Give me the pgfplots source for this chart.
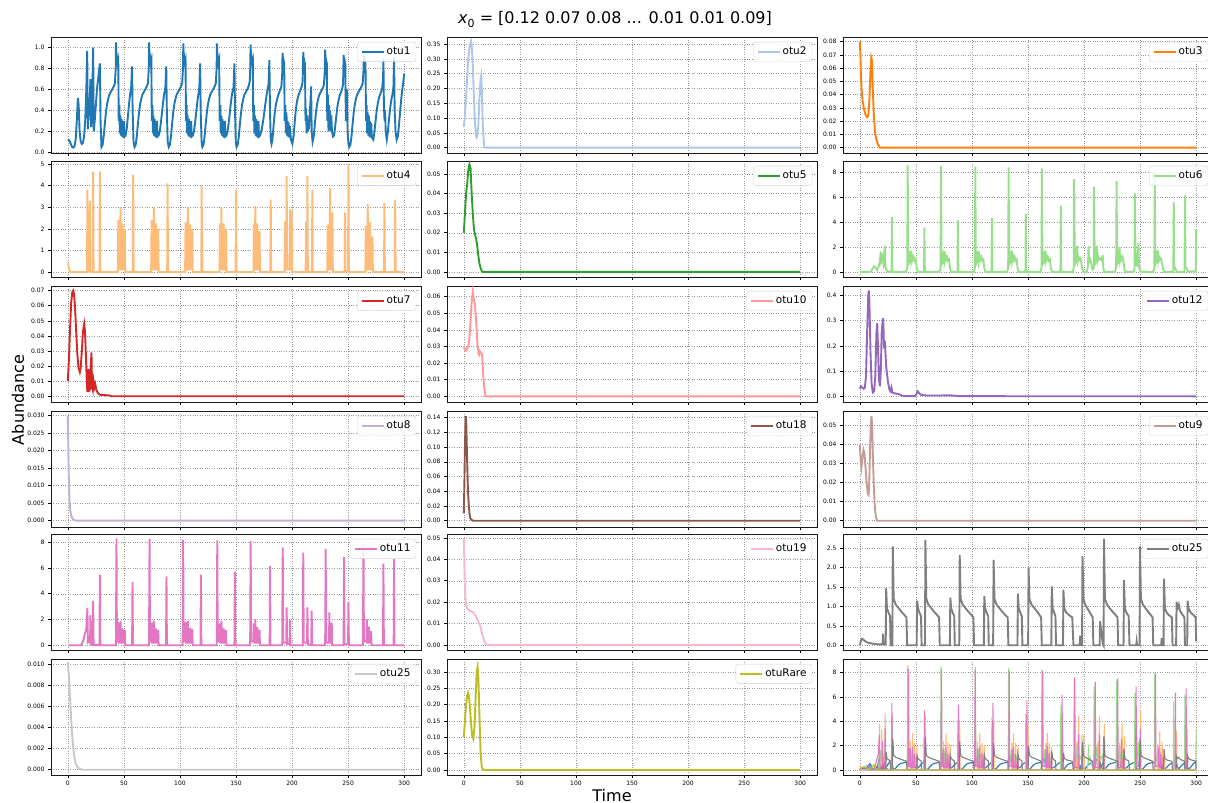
\documentclass[border=0pt]{standalone}
\usepackage{fontspec}
\setmainfont{DejaVu Sans}
\usepackage{pgfplots}
\pgfplotsset{compat=1.18}
\usepackage{pgfplotstable}

\definecolor{cA}{HTML}{1F77B4}
\definecolor{cB}{HTML}{AEC7E8}
\definecolor{cC}{HTML}{FF7F0E}
\definecolor{cD}{HTML}{FFBB78}
\definecolor{cE}{HTML}{2CA02C}
\definecolor{cF}{HTML}{98DF8A}
\definecolor{cG}{HTML}{D62728}
\definecolor{cH}{HTML}{FF9896}
\definecolor{cI}{HTML}{9467BD}
\definecolor{cJ}{HTML}{C5B0D5}
\definecolor{cK}{HTML}{8C564B}
\definecolor{cL}{HTML}{C49C94}
\definecolor{cM}{HTML}{E377C2}
\definecolor{cN}{HTML}{F7B6D2}
\definecolor{cO}{HTML}{7F7F7F}
\definecolor{cP}{HTML}{C7C7C7}
\definecolor{cQ}{HTML}{BCBD22}

\pgfplotsset{
  panel/.style={
    scale only axis, width=370pt, height=116pt, anchor=south west,
    xmin=-15, xmax=315, xtick={0,50,...,300},
    grid=major, major grid style={dotted, black!40, line width=0.55pt},
    axis line style={black!90, line width=0.9pt},
    tick style={black, line width=0.6pt},
    tick align=outside, tick pos=left, major tick length=3pt,
    ticklabel style={font=\fontsize{6}{7}\selectfont},
    /pgf/number format/assume math mode=true,
    scaled y ticks=false,
    yticklabel style={/pgf/number format/fixed, /pgf/number format/fixed zerofill},
    every axis plot post/.append style={line width=1.9pt},
    legend style={at={(0.987,0.957)}, anchor=north east, draw=black!18,
      rounded corners=2.5pt, fill=white, fill opacity=0.85, text opacity=1,
      font=\fontsize{10.5}{12}\selectfont, inner xsep=3.5pt, inner ysep=3pt},
    legend image code/.code={\draw[##1] (0pt,0pt) -- (22pt,0pt);},
  },
  nolab/.style={xticklabels={}},
  p0/.style={yticklabel style={/pgf/number format/precision=0}},
  p1/.style={yticklabel style={/pgf/number format/precision=1}},
  p2/.style={yticklabel style={/pgf/number format/precision=2}},
  p3/.style={yticklabel style={/pgf/number format/precision=3}},
}

% otu1
\pgfplotstableread[row sep=\\]{t v\\
0 0.12\\ 1 0.115\\ 2 0.10\\ 3 0.07\\ 4 0.05\\ 5 0.045\\ 6 0.06\\ 7 0.12\\ 8 0.3\\ 9 0.52\\ 9.7 0.45\\ 10.5 0.2\\ 11.5 0.1\\ 12.5 0.08\\ 13.5 0.09\\ 14.5 0.15\\ 15.5 0.3\\ 16.5 0.6\\ 17.3 0.97\\ 17.8 0.22\\ 18.5 0.35\\ 19.5 0.5\\ 20.2 0.7\\ 20.7 0.24\\ 21.5 0.35\\ 22.6 1.0\\ 23.1 0.2\\ 24 0.3\\ 25 0.45\\ 26 0.6\\ 27 0.7\\ 28.6 0.85\\ 29.2 0.3\\ 30 0.05\\
31 0.07\\ 32 0.15\\ 33 0.27\\ 34 0.38\\ 35 0.46\\ 36 0.51\\ 37 0.55\\ 38 0.57\\ 39 0.59\\ 40 0.61\\ 41 0.63\\ 42 0.66\\ 42.7 0.8\\ 43 1.05\\ 43.4 0.86\\ 43.9 0.9\\ 44.4 0.85\\ 45 0.88\\ 45.4 0.3\\ 46 0.45\\ 46.4 0.18\\ 46.9 0.35\\ 47.4 0.16\\ 47.9 0.32\\ 48.4 0.15\\ 48.9 0.3\\ 49.4 0.14\\ 50 0.3\\ 50.5 0.15\\ 51.5 0.16\\ 52.5 0.22\\ 53.5 0.33\\ 54.5 0.45\\ 55.5 0.55\\ 56.5 0.62\\ 57.3 0.82\\ 57.8 0.4\\ 58.6 0.1\\ 59.5 0.05\\
60.5 0.07\\ 61.5 0.15\\ 62.5 0.27\\ 63.5 0.38\\ 64.5 0.46\\ 65.5 0.51\\ 66.5 0.55\\ 67.5 0.57\\ 68.5 0.59\\ 69.5 0.61\\ 70.5 0.63\\ 71.5 0.66\\ 72.2 0.8\\ 72.5 1.05\\ 72.9 0.86\\ 73.4 0.9\\ 73.9 0.85\\ 74.5 0.88\\ 74.9 0.3\\ 75.5 0.45\\ 75.9 0.18\\ 76.4 0.35\\ 76.9 0.16\\ 77.4 0.32\\ 77.9 0.15\\ 78.4 0.3\\ 78.9 0.14\\ 79.5 0.3\\ 80 0.15\\ 81 0.16\\ 82 0.2\\ 83 0.28\\ 84 0.38\\ 85 0.48\\ 86 0.56\\ 87 0.62\\ 87.8 0.82\\ 88.3 0.4\\ 89.1 0.1\\ 90 0.05\\
91 0.07\\ 92 0.15\\ 93 0.27\\ 94 0.38\\ 95 0.46\\ 96 0.51\\ 97 0.55\\ 98 0.57\\ 99 0.59\\ 100 0.61\\ 101 0.63\\ 102 0.66\\ 102.7 0.8\\ 103 1.04\\ 103.4 0.86\\ 103.9 0.9\\ 104.4 0.85\\ 105 0.88\\ 105.4 0.3\\ 106 0.45\\ 106.4 0.18\\ 106.9 0.35\\ 107.4 0.16\\ 107.9 0.32\\ 108.4 0.15\\ 108.9 0.3\\ 109.4 0.14\\ 110 0.3\\ 110.5 0.15\\ 111.5 0.16\\ 112.5 0.2\\ 113.5 0.28\\ 114.5 0.38\\ 115.5 0.48\\ 116.5 0.56\\ 117.3 0.62\\ 118 0.85\\ 118.5 0.4\\ 119.3 0.1\\ 120 0.05\\
121 0.07\\ 122 0.15\\ 123 0.27\\ 124 0.38\\ 125 0.46\\ 126 0.51\\ 127 0.55\\ 128 0.57\\ 129 0.59\\ 130 0.61\\ 131 0.63\\ 132 0.66\\ 132.7 0.8\\ 133 1.04\\ 133.4 0.86\\ 133.9 0.9\\ 134.4 0.85\\ 135 0.88\\ 135.4 0.3\\ 136 0.45\\ 136.4 0.18\\ 136.9 0.35\\ 137.4 0.16\\ 137.9 0.32\\ 138.4 0.15\\ 138.9 0.3\\ 139.4 0.14\\ 140 0.3\\ 140.5 0.15\\ 141.5 0.16\\ 142.5 0.2\\ 143.5 0.28\\ 144.5 0.38\\ 145.5 0.48\\ 146.5 0.56\\ 147.8 0.62\\ 148.6 0.85\\ 149.1 0.4\\ 149.8 0.1\\ 150.5 0.05\\
151.5 0.07\\ 152.5 0.15\\ 153.5 0.27\\ 154.5 0.38\\ 155.5 0.46\\ 156.5 0.51\\ 157.5 0.55\\ 158.5 0.57\\ 159.5 0.59\\ 160.5 0.61\\ 161.5 0.64\\ 162.3 0.68\\ 162.7 0.8\\ 163 1.03\\ 163.4 0.86\\ 163.9 0.9\\ 164.4 0.85\\ 165 0.88\\ 165.4 0.3\\ 166 0.45\\ 166.4 0.18\\ 166.9 0.35\\ 167.4 0.16\\ 167.9 0.32\\ 168.4 0.15\\ 168.9 0.3\\ 169.4 0.14\\ 170 0.3\\ 170.5 0.15\\ 171.5 0.16\\ 173 0.22\\ 174.5 0.32\\ 176 0.45\\ 177.5 0.56\\ 179 0.65\\ 179.8 0.88\\ 180.3 0.4\\ 181 0.12\\ 181.7 0.08\\
182.5 0.12\\ 183.5 0.25\\ 184.5 0.37\\ 185.5 0.45\\ 186.5 0.5\\ 187.5 0.54\\ 188.5 0.57\\ 189.5 0.6\\ 190.5 0.63\\ 191.2 0.75\\ 191.5 0.95\\ 191.9 0.86\\ 192.4 0.88\\ 193 0.85\\ 193.4 0.3\\ 194 0.45\\ 194.5 0.18\\ 195 0.38\\ 195.5 0.16\\ 196 0.3\\ 196.5 0.15\\ 197 0.28\\ 197.5 0.14\\ 198 0.25\\ 199 0.12\\ 200.3 0.08\\
201.3 0.15\\ 202.3 0.28\\ 203.3 0.4\\ 204.3 0.48\\ 205.3 0.53\\ 206.3 0.56\\ 207.3 0.59\\ 208.3 0.62\\ 209.3 0.66\\ 209.7 0.78\\ 210 0.96\\ 210.4 0.85\\ 211 0.87\\ 211.5 0.84\\ 212 0.3\\ 212.5 0.42\\ 213 0.18\\ 213.5 0.35\\ 214 0.2\\ 214.5 0.3\\ 215 0.22\\ 215.7 0.35\\ 216.5 0.5\\ 217 0.63\\ 217.5 0.2\\ 218.3 0.1\\
219.3 0.15\\ 220.3 0.27\\ 221.3 0.38\\ 222.3 0.46\\ 223.3 0.51\\ 224.3 0.55\\ 225.3 0.57\\ 226.3 0.59\\ 227.3 0.61\\ 228.3 0.64\\ 229.1 0.75\\ 229.5 0.98\\ 229.9 0.86\\ 230.4 0.88\\ 231 0.85\\ 231.4 0.3\\ 232 0.55\\ 232.5 0.2\\ 233 0.45\\ 233.5 0.25\\ 234 0.4\\ 234.5 0.2\\ 235 0.35\\ 235.6 0.2\\ 236.5 0.15\\ 237.5 0.16\\
238.5 0.25\\ 239.5 0.35\\ 240.5 0.44\\ 241.5 0.5\\ 242.5 0.54\\ 243.5 0.57\\ 244.5 0.6\\ 245.5 0.65\\ 246 0.93\\ 246.4 0.85\\ 247 0.87\\ 247.5 0.84\\ 248 0.3\\ 248.5 0.35\\ 249 0.6\\ 249.5 0.2\\ 250.3 0.08\\ 251 0.05\\
252 0.07\\ 253 0.15\\ 254 0.27\\ 255 0.38\\ 256 0.46\\ 257 0.51\\ 258 0.55\\ 259 0.57\\ 260 0.59\\ 261 0.61\\ 262 0.63\\ 263 0.66\\ 263.7 0.78\\ 264 0.93\\ 264.4 0.86\\ 265 0.88\\ 265.5 0.84\\ 266 0.3\\ 266.5 0.45\\ 267 0.18\\ 267.5 0.38\\ 268 0.16\\ 268.5 0.35\\ 269 0.15\\ 269.5 0.3\\ 270 0.14\\ 270.6 0.28\\ 271.2 0.14\\ 272.5 0.12\\
273.5 0.2\\ 274.5 0.3\\ 275.5 0.4\\ 276.5 0.47\\ 277.5 0.52\\ 278.5 0.55\\ 279.5 0.58\\ 280.5 0.62\\ 281.2 0.72\\ 281.5 0.89\\ 281.9 0.45\\ 282.5 0.3\\ 283 0.4\\ 283.5 0.2\\ 284.5 0.12\\
285.5 0.2\\ 286.5 0.32\\ 287.5 0.42\\ 288.5 0.5\\ 289.5 0.55\\ 290.4 0.62\\ 291 0.91\\ 291.5 0.4\\ 292.3 0.2\\ 293.3 0.12\\ 294.3 0.15\\ 295.3 0.25\\ 296.3 0.38\\ 297.3 0.5\\ 298.3 0.6\\ 299.3 0.68\\ 300 0.75\\
}\otuA

% otu2
\pgfplotstableread[row sep=\\]{t v\\
0 0.07\\ 1 0.11\\ 2 0.17\\ 3 0.24\\ 4 0.3\\ 5 0.34\\ 6 0.355\\ 6.5 0.36\\ 7 0.35\\ 8 0.28\\ 9 0.17\\ 10 0.08\\ 11 0.04\\ 11.5 0.035\\ 12 0.04\\ 13 0.08\\ 14 0.17\\ 15 0.235\\ 15.5 0.245\\ 16 0.2\\ 17 0.07\\ 18 0.01\\ 18.5 0.002\\ 19 0\\ 300 0\\
}\otuB

% otu3
\pgfplotstableread[row sep=\\]{t v\\
0 0.08\\ 0.5 0.07\\ 1 0.055\\ 1.5 0.045\\ 2.5 0.035\\ 3.5 0.03\\ 5 0.025\\ 6.5 0.023\\ 7.5 0.024\\ 8.5 0.035\\ 9.5 0.058\\ 10.2 0.068\\ 10.8 0.066\\ 11.5 0.045\\ 12.5 0.025\\ 13.5 0.012\\ 14.5 0.007\\ 16 0.003\\ 17.9 0\\ 300 0\\
}\otuC

% otu4
\pgfplotstableread[row sep=\\]{t v\\
0 0.43\\ 0.5 0.35\\ 1.5 0.05\\ 2.5 0\\ 17.1 0\\ 17.5 3.8\\ 17.9 0.05\\ 19.2 0.05\\ 19.6 3.3\\ 20 0.02\\ 22.2 0\\ 22.6 4.65\\ 23 0\\ 28.2 0\\ 28.6 4.65\\ 29 0\\
44.6 0\\ 45 2.4\\ 45.4 0.12\\ 46.6 0.12\\ 47 3.0\\ 47.4 0.12\\ 48.4 0.12\\ 48.8 2.25\\ 49.2 0.12\\ 50.5 0.12\\ 50.9 2.0\\ 51.3 0\\ 57.9 0\\ 58.3 4.5\\ 58.7 0\\
74.3 0\\ 74.7 2.4\\ 75.1 0.12\\ 76.4 0.12\\ 76.8 3.0\\ 77.2 0.12\\ 78.2 0.12\\ 78.6 2.25\\ 79 0.12\\ 80.2 0.12\\ 80.6 2.0\\ 81 0\\ 88.6 0\\ 89 4.1\\ 89.4 0\\
104.6 0\\ 105 2.3\\ 105.4 0.12\\ 106.6 0.12\\ 107 3.0\\ 107.4 0.12\\ 108.6 0.12\\ 109 2.2\\ 109.4 0.12\\ 110.6 0.12\\ 111 2.0\\ 111.4 0\\ 119 0\\ 119.4 4.0\\ 119.8 0\\
135.3 0\\ 135.7 2.25\\ 136.1 0.12\\ 136.6 0.12\\ 137 3.0\\ 137.4 0.12\\ 138.6 0.12\\ 139 2.25\\ 139.4 0.12\\ 140.6 0.12\\ 141 2.0\\ 141.4 0\\ 149.6 0\\ 150 3.8\\ 150.4 0\\
165.6 0\\ 166 2.2\\ 166.4 0.12\\ 166.8 0.12\\ 167.2 3.05\\ 167.6 0.12\\ 168.6 0.12\\ 169 2.25\\ 169.4 0.12\\ 170.6 0.12\\ 171 1.9\\ 171.4 0\\ 180.6 0\\ 181 3.35\\ 181.4 0\\
193.3 0\\ 193.7 2.35\\ 194.1 0.12\\ 194.8 0.12\\ 195.2 4.45\\ 195.6 0.12\\ 197.8 0.12\\ 198.2 2.9\\ 198.6 0.12\\ 199.3 0.12\\ 199.7 2.85\\ 200.1 0\\
212.1 0\\ 212.5 2.35\\ 212.9 0.12\\ 213.3 0.12\\ 213.7 4.45\\ 214.1 0\\ 217.7 0\\ 218.1 3.8\\ 218.5 0\\
231.4 0\\ 231.8 2.2\\ 232.2 0.12\\ 233.5 0.12\\ 233.9 3.9\\ 234.3 0.12\\ 235.6 0.12\\ 236 2.75\\ 236.4 0\\
246.9 0\\ 247.3 2.75\\ 247.7 0.05\\ 249.9 0.05\\ 250.3 4.95\\ 250.7 0\\
265.4 0\\ 265.8 2.15\\ 266.2 0.12\\ 267.1 0.12\\ 267.5 3.15\\ 267.9 0.12\\ 269.2 0.12\\ 269.6 2.3\\ 270 0.12\\ 271.3 0.12\\ 271.7 1.65\\ 272.1 0\\
282 0\\ 282.4 3.2\\ 282.8 0\\ 291.6 0\\ 292 3.35\\ 292.4 0\\ 300 0\\
}\otuD

% otu5
\pgfplotstableread[row sep=\\]{t v\\
0 0.02\\ 1 0.03\\ 2 0.04\\ 3 0.045\\ 4 0.052\\ 5 0.055\\ 6 0.053\\ 7 0.04\\ 8 0.03\\ 9 0.022\\ 10 0.019\\ 11 0.017\\ 12 0.013\\ 13 0.008\\ 14 0.004\\ 15 0.002\\ 16 0.0005\\ 17 0\\ 300 0\\
}\otuE

% otu6
\pgfplotstableread[row sep=\\]{t v\\
0 0\\ 10 0.02\\ 11 0.2\\ 12.5 0.45\\ 14 0.35\\ 15.5 0.15\\ 17 0.5\\ 18 0.9\\ 18.6 1.65\\ 19.2 0.9\\ 20 1.2\\ 21 0.7\\ 22.3 2.1\\ 22.8 0.4\\ 24 0.1\\ 25 0.03\\ 28.2 0.03\\ 28.6 4.4\\ 29 0.03\\ 30 0\\
41.2 0\\ 42.3 0.3\\ 42.7 8.55\\ 43.2 0.6\\ 44.2 0.8\\ 45.3 1.7\\ 45.8 0.9\\ 46.5 1.3\\ 47.2 1.0\\ 48 1.2\\ 48.9 0.9\\ 49.9 1.0\\ 50.7 0.3\\ 51.7 0\\ 57.2 0\\ 57.6 3.55\\ 58 0\\
70.9 0\\ 72 0.3\\ 72.4 8.5\\ 72.9 0.6\\ 73.9 0.8\\ 75 1.7\\ 75.5 0.9\\ 76.2 1.3\\ 76.9 1.0\\ 77.7 1.2\\ 78.6 0.9\\ 79.6 1.0\\ 80.4 0.3\\ 81.4 0\\ 87.1 0\\ 87.5 4.15\\ 87.9 0\\
101.5 0\\ 102.6 0.3\\ 103 8.45\\ 103.5 0.6\\ 104.5 0.8\\ 105.6 1.7\\ 106.1 0.9\\ 106.8 1.3\\ 107.5 1.0\\ 108.3 1.2\\ 109.2 0.9\\ 110.2 1.0\\ 111 0.3\\ 112 0\\ 117.4 0\\ 117.8 4.35\\ 118.2 0\\
131.2 0\\ 132.3 0.3\\ 132.7 8.4\\ 133.2 0.6\\ 134.2 0.8\\ 135.3 1.7\\ 135.8 0.9\\ 136.5 1.3\\ 137.2 1.0\\ 138 1.2\\ 138.9 0.9\\ 139.9 1.0\\ 140.7 0.3\\ 141.7 0\\ 147.7 0\\ 148.1 4.65\\ 148.5 0\\
160.9 0\\ 162 0.3\\ 162.4 8.3\\ 162.9 0.6\\ 163.9 0.8\\ 165 1.7\\ 165.5 0.9\\ 166.2 1.3\\ 166.9 1.0\\ 167.7 1.2\\ 168.6 0.9\\ 169.6 1.0\\ 170.4 0.3\\ 171.4 0\\ 178.9 0\\ 179.3 5.3\\ 179.7 0\\
189.7 0\\ 190.8 0.3\\ 191.2 7.45\\ 191.7 0.6\\ 192.7 0.8\\ 193.8 2.1\\ 194.3 0.9\\ 195 1.2\\ 195.8 1.0\\ 196.6 1.1\\ 197.5 0.8\\ 198.5 0.2\\ 199.5 0\\
202.5 0\\ 203.5 0.5\\ 204 2.1\\ 204.5 0.8\\ 205.5 1.0\\ 206.5 0.6\\ 207.5 0.2\\ 208.6 0.3\\ 209 6.85\\ 209.5 0.6\\ 210.5 0.8\\ 211.6 2.1\\ 212.1 0.9\\ 213 1.2\\ 214 1.0\\ 215 1.1\\ 216 0.9\\ 216.6 1.35\\ 217.2 0.3\\ 218 0\\
227.5 0\\ 228.6 0.3\\ 229 7.3\\ 229.5 0.6\\ 230.5 0.8\\ 231.6 2.0\\ 232.1 0.9\\ 232.8 1.2\\ 233.6 1.0\\ 234.4 1.2\\ 235.2 0.8\\ 236 0.2\\ 237 0\\
244 0\\ 245 0.3\\ 245.4 6.3\\ 245.9 0.5\\ 247 0.5\\ 248.5 2.3\\ 249 0.4\\ 250 0.1\\ 251 0\\
261.6 0\\ 262.7 0.3\\ 263.1 8.0\\ 263.6 0.6\\ 264.6 0.8\\ 265.7 1.75\\ 266.2 0.9\\ 266.9 1.2\\ 267.6 1.0\\ 268.4 1.1\\ 269.3 0.8\\ 270.3 0.3\\ 271.3 0\\
279.6 0\\ 280 5.6\\ 280.5 0.4\\ 281.5 0.3\\ 282.5 0\\ 289.6 0\\ 290 6.15\\ 290.5 0.4\\ 291.5 0.3\\ 292.5 0.05\\ 299.6 0.05\\ 300 3.4\\
}\otuF

% otu7
\pgfplotstableread[row sep=\\]{t v\\
0 0.01\\ 1 0.025\\ 2 0.045\\ 3 0.062\\ 4 0.069\\ 4.8 0.07\\ 5.5 0.068\\ 6.5 0.058\\ 7.5 0.042\\ 8.5 0.028\\ 9.5 0.019\\ 10.7 0.016\\ 11.5 0.019\\ 12.5 0.03\\ 13.5 0.043\\ 14.6 0.048\\ 15.3 0.043\\ 16 0.03\\ 16.8 0.012\\ 17.4 0.003\\ 17.9 0.015\\ 18.3 0.018\\ 18.7 0.003\\ 19.3 0.016\\ 19.8 0.004\\ 20.5 0.02\\ 21.1 0.029\\ 21.6 0.006\\ 22.3 0.004\\ 23 0.01\\ 23.8 0.006\\ 24.5 0.008\\ 25.5 0.004\\ 27 0.002\\ 28.6 0.001\\ 37.5 0.0005\\ 39 0\\ 300 0\\
}\otuG

% otu10
\pgfplotstableread[row sep=\\]{t v\\
0 0.03\\ 1 0.028\\ 2 0.0275\\ 3 0.029\\ 4 0.03\\ 5 0.035\\ 6 0.045\\ 7 0.057\\ 8 0.063\\ 9 0.058\\ 10 0.055\\ 11 0.045\\ 12 0.033\\ 13 0.026\\ 13.7 0.025\\ 14.5 0.027\\ 15.5 0.026\\ 16.3 0.025\\ 17.3 0.013\\ 18.3 0.005\\ 19.3 0\\ 300 0\\
}\otuH

% otu12
\pgfplotstableread[row sep=\\]{t v\\
0 0.03\\ 1 0.04\\ 2 0.035\\ 3.5 0.03\\ 4.5 0.035\\ 5.5 0.08\\ 6.5 0.25\\ 7.5 0.4\\ 8 0.42\\ 8.5 0.38\\ 9.5 0.18\\ 10.5 0.05\\ 11.6 0.015\\ 12.8 0.02\\ 13.8 0.08\\ 14.8 0.25\\ 15.5 0.29\\ 16.2 0.2\\ 17 0.07\\ 17.9 0.04\\ 18.7 0.1\\ 19.5 0.25\\ 20.5 0.31\\ 21 0.29\\ 21.6 0.19\\ 22.3 0.22\\ 23.5 0.12\\ 25 0.06\\ 26.5 0.025\\ 27.3 0.02\\ 28.2 0.035\\ 29 0.015\\ 30.9 0.012\\ 33 0.01\\ 35 0.008\\ 37 0.004\\ 39 0.001\\ 49.5 0.001\\ 51.6 0.02\\ 53 0.012\\ 55 0.005\\ 60 0.003\\ 70 0.003\\ 80 0.004\\ 85 0.002\\ 90 0.0005\\ 300 0\\
}\otuI

% otu8
\pgfplotstableread[row sep=\\]{t v\\
0 0.03\\ 0.3 0.024\\ 0.6 0.017\\ 1 0.011\\ 1.5 0.006\\ 2 0.0035\\ 3 0.0015\\ 4 0.0007\\ 5 0.0003\\ 7 0.00005\\ 10 0\\ 300 0\\
}\otuJ

% otu18
\pgfplotstableread[row sep=\\]{t v\\
0 0.01\\ 0.5 0.05\\ 1 0.1\\ 1.5 0.135\\ 1.8 0.142\\ 2.2 0.13\\ 3 0.08\\ 3.7 0.04\\ 4.5 0.02\\ 5.2 0.008\\ 5.9 0.003\\ 7 0.001\\ 8.3 0\\ 300 0\\
}\otuK

% otu9
\pgfplotstableread[row sep=\\]{t v\\
0 0.04\\ 0.8 0.031\\ 1.5 0.028\\ 2.3 0.033\\ 3.3 0.037\\ 4.2 0.035\\ 5.2 0.027\\ 6.2 0.019\\ 7.2 0.014\\ 7.8 0.0135\\ 8.3 0.018\\ 9 0.035\\ 9.8 0.05\\ 10.4 0.055\\ 11 0.05\\ 11.7 0.033\\ 12.5 0.018\\ 13.5 0.006\\ 14.5 0.0015\\ 15.5 0\\ 300 0\\
}\otuL

% otu11
\pgfplotstableread[row sep=\\]{t v\\
0 0\\ 12 0\\ 13.5 0.3\\ 15 0.8\\ 16.5 1.3\\ 17.5 2.9\\ 17.9 0.2\\ 19.8 0.3\\ 20.2 2.35\\ 20.6 0.05\\ 22.2 0.05\\ 22.6 3.45\\ 23 0.02\\ 28.2 0\\ 28.6 5.5\\ 29 0\\
42.9 0\\ 43.4 8.3\\ 43.8 0.3\\ 44.6 0.3\\ 45 1.8\\ 45.4 0.2\\ 46.6 0.2\\ 47 1.9\\ 47.4 0.2\\ 48.4 0.2\\ 48.8 1.3\\ 49.2 0.2\\ 50.5 0.2\\ 50.9 1.2\\ 51.3 0\\ 57.3 0\\ 57.7 4.9\\ 58.1 0\\
72.4 0\\ 72.9 8.25\\ 73.3 0.3\\ 74.3 0.3\\ 74.7 1.75\\ 75.1 0.2\\ 76.4 0.2\\ 76.8 1.9\\ 77.2 0.2\\ 78.2 0.2\\ 78.6 1.3\\ 79 0.2\\ 80.2 0.2\\ 80.6 1.2\\ 81 0\\ 87.6 0\\ 88 5.35\\ 88.4 0\\
102.4 0\\ 102.9 8.2\\ 103.3 0.3\\ 104.6 0.3\\ 105 1.8\\ 105.4 0.2\\ 106.6 0.2\\ 107 1.9\\ 107.4 0.2\\ 108.6 0.2\\ 109 1.35\\ 109.4 0.2\\ 110.6 0.2\\ 111 1.25\\ 111.4 0\\ 118.3 0\\ 118.7 5.5\\ 119.1 0\\
132.8 0\\ 133.3 8.15\\ 133.7 0.3\\ 135.3 0.3\\ 135.7 1.7\\ 136.1 0.2\\ 136.6 0.2\\ 137 1.9\\ 137.4 0.2\\ 138.6 0.2\\ 139 1.3\\ 139.4 0.2\\ 140.6 0.2\\ 141 1.2\\ 141.4 0\\ 148.6 0\\ 149 5.7\\ 149.4 0\\
162.6 0\\ 163.1 8.1\\ 163.5 0.3\\ 165.6 0.3\\ 166 1.7\\ 166.4 0.2\\ 166.8 0.2\\ 167.2 2.0\\ 167.6 0.2\\ 168.6 0.2\\ 169 1.4\\ 169.4 0.2\\ 170.6 0.2\\ 171 1.2\\ 171.4 0\\ 180 0\\ 180.4 6.15\\ 180.8 0\\
191.2 0\\ 191.7 7.6\\ 192.1 0.2\\ 194.8 0.2\\ 195.2 2.95\\ 195.6 0.1\\ 197.8 0.1\\ 198.2 1.95\\ 198.6 0\\
209.5 0\\ 210 7.2\\ 210.4 0.2\\ 213.3 0.2\\ 213.7 2.95\\ 214.1 0.05\\ 217.1 0.05\\ 217.5 2.7\\ 217.9 0\\
229.5 0\\ 230 7.5\\ 230.4 0.2\\ 232.9 0.2\\ 233.3 2.55\\ 233.7 0.2\\ 235 0.2\\ 235.4 1.75\\ 235.8 0\\
245.9 0\\ 246.4 6.85\\ 246.8 0.1\\ 249.9 0.1\\ 250.3 3.4\\ 250.7 0\\
263.2 0\\ 263.7 7.9\\ 264.1 0.3\\ 266.3 0.3\\ 266.7 2.0\\ 267.1 0.2\\ 268.1 0.2\\ 268.5 1.45\\ 268.9 0.2\\ 270.1 0.2\\ 270.5 1.1\\ 270.9 0\\
281.1 0\\ 281.5 6.35\\ 281.9 0\\ 290.6 0\\ 291 6.7\\ 291.4 0\\ 300 0\\
}\otuM

% otu19
\pgfplotstableread[row sep=\\]{t v\\
0 0.05\\ 0.4 0.04\\ 0.8 0.03\\ 1.3 0.023\\ 2 0.019\\ 3 0.017\\ 5 0.016\\ 7 0.0155\\ 9 0.015\\ 11 0.013\\ 13 0.011\\ 14.5 0.009\\ 16 0.006\\ 17.5 0.003\\ 19 0.001\\ 20.5 0\\ 300 0\\
}\otuN

% otu25 (grey)
\pgfplotstableread[row sep=\\]{t v\\
0 0\\ 1 0.12\\ 2 0.17\\ 3 0.15\\ 5 0.1\\ 7 0.07\\ 10 0.05\\ 13 0.035\\ 16 0.025\\ 20.3 0.02\\ 20.8 0.3\\ 21.3 0.02\\ 23.1 0.02\\ 23.5 1.47\\ 24.2 0.95\\ 25.5 0.85\\ 27 0.75\\ 27.4 0\\ 29 0\\ 29.4 2.55\\ 30.2 1.2\\ 32 1.05\\ 34.8 0.95\\ 37 0.87\\ 39.2 0.8\\ 41.6 0.72\\ 42.2 0\\
50.7 0\\ 51.1 1.15\\ 51.9 0.95\\ 53.1 0.85\\ 54.6 0.75\\ 55.1 0\\ 58.1 0\\ 58.5 2.72\\ 59.3 1.2\\ 61.1 1.05\\ 63.9 0.95\\ 66.1 0.87\\ 68.3 0.8\\ 70.7 0.72\\ 71.3 0\\
80.3 0\\ 80.7 1.23\\ 81.5 0.95\\ 82.7 0.85\\ 84.2 0.75\\ 84.7 0\\ 88.7 0\\ 89.1 2.33\\ 89.9 1.2\\ 91.7 1.05\\ 94.5 0.95\\ 96.7 0.87\\ 98.9 0.8\\ 101.3 0.72\\ 101.9 0\\
110.6 0\\ 111 1.27\\ 111.8 0.95\\ 113 0.85\\ 114.5 0.75\\ 115 0\\ 118.9 0\\ 119.3 2.2\\ 120.1 1.2\\ 121.9 1.05\\ 124.7 0.95\\ 126.9 0.87\\ 129.1 0.8\\ 131.9 0.72\\ 132.5 0\\
140.6 0\\ 141 1.33\\ 141.8 0.95\\ 143 0.85\\ 144.5 0.75\\ 145 0\\ 150.1 0\\ 150.5 2.0\\ 151.3 1.2\\ 153.1 1.05\\ 155.9 0.95\\ 158.1 0.87\\ 159.8 0.8\\ 161.7 0.72\\ 162.3 0\\
170.8 0\\ 171.2 1.52\\ 172 0.95\\ 173.2 0.85\\ 174.5 0.75\\ 175 0\\ 181.2 0\\ 181.6 1.43\\ 182.4 0.95\\ 184 0.85\\ 186.5 0.78\\ 189.5 0.72\\ 190.5 0\\
196 0\\ 196.5 0.25\\ 197 0\\ 198.2 0\\ 198.6 2.3\\ 199.4 1.2\\ 201 1.05\\ 203 0.95\\ 205 0.85\\ 207.7 0.72\\ 208.3 0\\
213.9 0\\ 214.3 0.62\\ 216.6 0.05\\ 217.4 0\\ 217.8 2.75\\ 218.6 1.2\\ 220.4 1.05\\ 223 0.95\\ 225.3 0.87\\ 227.5 0.8\\ 229.8 0.72\\ 230.4 0\\
235.2 0\\ 235.6 1.68\\ 236.4 0.95\\ 237.6 0.85\\ 239.8 0.75\\ 240.5 0\\ 246.5 0\\ 246.9 0.1\\ 247.3 0\\ 249.5 0\\ 249.9 2.55\\ 250.7 1.2\\ 252.5 1.05\\ 255 0.95\\ 257 0.87\\ 259 0.8\\ 261.1 0.72\\ 261.7 0\\
268.8 0\\ 269.2 0.18\\ 269.6 0\\ 270.9 0\\ 271.3 1.72\\ 272.1 0.95\\ 273.5 0.85\\ 275.5 0.78\\ 278.3 0.72\\ 278.9 0\\
282.1 0\\ 282.5 1.12\\ 283.3 0.95\\ 284.5 1.05\\ 285.5 0.9\\ 287.5 0.8\\ 289.5 0.72\\ 290 0\\ 292 0\\ 292.4 1.15\\ 293.2 0.95\\ 295 0.85\\ 297.5 0.78\\ 299.5 0.72\\ 300 0.1\\
}\otuO

% otu25 (light grey)
\pgfplotstableread[row sep=\\]{t v\\
0 0.0102\\ 0.5 0.0095\\ 1 0.0088\\ 1.5 0.0078\\ 2 0.0068\\ 2.5 0.0058\\ 3 0.0048\\ 3.5 0.0039\\ 4 0.0031\\ 5 0.0019\\ 6 0.0011\\ 7 0.0006\\ 8.5 0.0003\\ 10 0.0001\\ 13 0\\ 300 0\\
}\otuP

% otuRare
\pgfplotstableread[row sep=\\]{t v\\
0 0.1\\ 1 0.15\\ 2 0.2\\ 3 0.228\\ 3.8 0.236\\ 4.6 0.225\\ 5.5 0.19\\ 6.5 0.14\\ 7.5 0.105\\ 8.5 0.095\\ 9.5 0.13\\ 10.5 0.22\\ 11.5 0.3\\ 12.3 0.316\\ 13 0.28\\ 14 0.16\\ 15 0.05\\ 16 0.01\\ 17.5 0\\ 300 0\\
}\otuQ

\begin{document}
\begin{tikzpicture}
\path[use as bounding box] (0,0) rectangle (1208pt,803pt);

% row 1
\begin{axis}[panel, nolab, p1, at={(51pt,650pt)}, ymin=-0.007, ymax=1.102, ytick={0,0.2,0.4,0.6,0.8,1.0}]
\addplot[cA] table[x=t,y=v] {\otuA}; \addlegendentry{otu1}
\end{axis}
\begin{axis}[panel, nolab, p2, at={(447pt,650pt)}, ymin=-0.018, ymax=0.374, ytick={0,0.05,0.10,0.15,0.20,0.25,0.30,0.35}]
\addplot[cB] table[x=t,y=v] {\otuB}; \addlegendentry{otu2}
\end{axis}
\begin{axis}[panel, nolab, p2, at={(843pt,650pt)}, ymin=-0.004, ymax=0.0835, ytick={0,0.01,0.02,0.03,0.04,0.05,0.06,0.07,0.08}]
\addplot[cC] table[x=t,y=v] {\otuC}; \addlegendentry{otu3}
\end{axis}

% row 2
\begin{axis}[panel, nolab, p0, at={(51pt,526pt)}, ymin=-0.23, ymax=5.14, ytick={0,1,2,3,4,5}]
\addplot[cD] table[x=t,y=v] {\otuD}; \addlegendentry{otu4}
\end{axis}
\begin{axis}[panel, nolab, p2, at={(447pt,526pt)}, ymin=-0.0026, ymax=0.0567, ytick={0,0.01,0.02,0.03,0.04,0.05}]
\addplot[cE] table[x=t,y=v] {\otuE}; \addlegendentry{otu5}
\end{axis}
\begin{axis}[panel, nolab, p0, at={(843pt,526pt)}, ymin=-0.405, ymax=8.91, ytick={0,2,4,6,8}]
\addplot[cF] table[x=t,y=v] {\otuF}; \addlegendentry{otu6}
\end{axis}

% row 3
\begin{axis}[panel, nolab, p2, at={(51pt,401pt)}, ymin=-0.0038, ymax=0.0731, ytick={0,0.01,0.02,0.03,0.04,0.05,0.06,0.07}]
\addplot[cG] table[x=t,y=v] {\otuG}; \addlegendentry{otu7}
\end{axis}
\begin{axis}[panel, nolab, p2, at={(447pt,401pt)}, ymin=-0.0034, ymax=0.0664, ytick={0,0.01,0.02,0.03,0.04,0.05,0.06}]
\addplot[cH] table[x=t,y=v] {\otuH}; \addlegendentry{otu10}
\end{axis}
\begin{axis}[panel, nolab, p1, at={(843pt,401pt)}, ymin=-0.0226, ymax=0.438, ytick={0,0.1,0.2,0.3,0.4}]
\addplot[cI] table[x=t,y=v] {\otuI}; \addlegendentry{otu12}
\end{axis}

% row 4
\begin{axis}[panel, nolab, p3, at={(51pt,276pt)}, ymin=-0.0018, ymax=0.0313, ytick={0,0.005,0.010,0.015,0.020,0.025,0.030}]
\addplot[cJ] table[x=t,y=v] {\otuJ}; \addlegendentry{otu8}
\end{axis}
\begin{axis}[panel, nolab, p2, at={(447pt,276pt)}, ymin=-0.0085, ymax=0.149, ytick={0,0.02,0.04,0.06,0.08,0.10,0.12,0.14}]
\addplot[cK] table[x=t,y=v] {\otuK}; \addlegendentry{otu18}
\end{axis}
\begin{axis}[panel, nolab, p2, at={(843pt,276pt)}, ymin=-0.0033, ymax=0.0576, ytick={0,0.01,0.02,0.03,0.04,0.05}]
\addplot[cL] table[x=t,y=v] {\otuL}; \addlegendentry{otu9}
\end{axis}

% row 5
\begin{axis}[panel, nolab, p0, at={(51pt,153pt)}, ymin=-0.37, ymax=8.65, ytick={0,2,4,6,8}]
\addplot[cM] table[x=t,y=v] {\otuM}; \addlegendentry{otu11}
\end{axis}
\begin{axis}[panel, nolab, p2, at={(447pt,153pt)}, ymin=-0.0024, ymax=0.0519, ytick={0,0.01,0.02,0.03,0.04,0.05}]
\addplot[cN] table[x=t,y=v] {\otuN}; \addlegendentry{otu19}
\end{axis}
\begin{axis}[panel, nolab, p1, at={(843pt,153pt)}, ymin=-0.122, ymax=2.87, ytick={0,0.5,1.0,1.5,2.0,2.5}]
\addplot[cO] table[x=t,y=v] {\otuO}; \addlegendentry{otu25}
\end{axis}

% row 6
\begin{axis}[panel, p3, at={(51pt,28pt)}, ymin=-0.0005, ymax=0.0105, ytick={0,0.002,0.004,0.006,0.008,0.010}]
\addplot[cP] table[x=t,y=v] {\otuP}; \addlegendentry{otu25}
\end{axis}
\begin{axis}[panel, p2, at={(447pt,28pt)}, ymin=-0.0153, ymax=0.340, ytick={0,0.05,0.10,0.15,0.20,0.25,0.30}]
\addplot[cQ] table[x=t,y=v] {\otuQ}; \addlegendentry{otuRare}
\end{axis}
\begin{axis}[panel, p0, at={(843pt,28pt)}, ymin=-0.405, ymax=9.1, ytick={0,2,4,6,8},
  every axis plot post/.append style={line width=1.1pt}]
\addplot[cA] table[x=t,y=v] {\otuA};
\addplot[cB] table[x=t,y=v] {\otuB};
\addplot[cC] table[x=t,y=v] {\otuC};
\addplot[cD] table[x=t,y=v] {\otuD};
\addplot[cE] table[x=t,y=v] {\otuE};
\addplot[cF] table[x=t,y=v] {\otuF};
\addplot[cG] table[x=t,y=v] {\otuG};
\addplot[cH] table[x=t,y=v] {\otuH};
\addplot[cI] table[x=t,y=v] {\otuI};
\addplot[cJ] table[x=t,y=v] {\otuJ};
\addplot[cK] table[x=t,y=v] {\otuK};
\addplot[cL] table[x=t,y=v] {\otuL};
\addplot[cM] table[x=t,y=v] {\otuM};
\addplot[cN] table[x=t,y=v] {\otuN};
\addplot[cO] table[x=t,y=v] {\otuO};
\addplot[cP] table[x=t,y=v] {\otuP};
\addplot[cQ] table[x=t,y=v] {\otuQ};
\end{axis}

\node[font=\fontsize{16}{18}\selectfont, anchor=base] at (615pt,779pt) {\textit{x}\raisebox{-0.35ex}{\fontsize{11}{12}\selectfont 0} = [0.12 0.07 0.08 ... 0.01 0.01 0.09]};
\node[rotate=90, font=\fontsize{16}{18}\selectfont] at (18pt,403pt) {Abundance};
\node[font=\fontsize{16}{18}\selectfont, anchor=base] at (612pt,1.5pt) {Time};
\end{tikzpicture}
\end{document}
